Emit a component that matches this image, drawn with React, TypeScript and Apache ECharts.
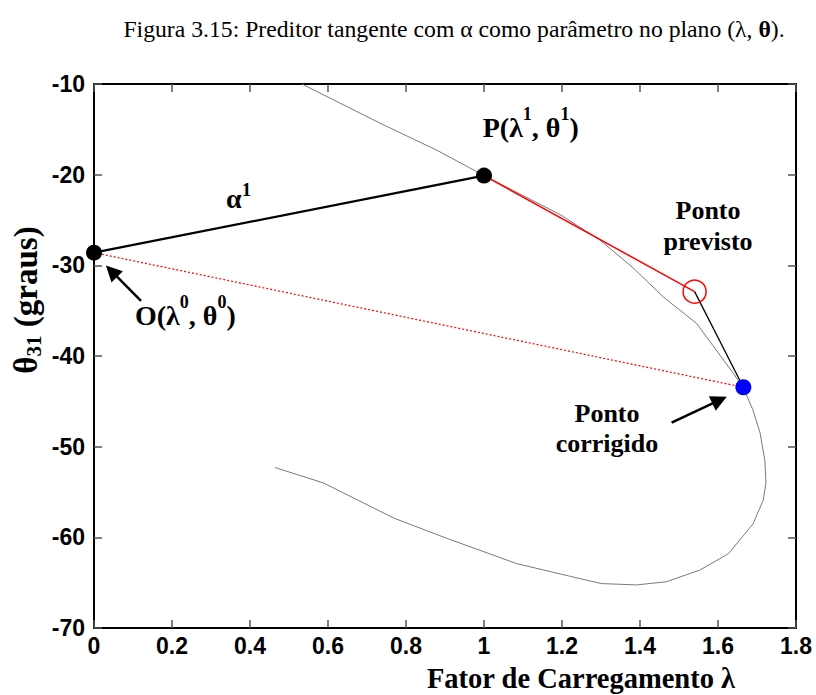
import React, { useEffect, useRef } from "react";
import * as echarts from "echarts";

// Load-flow curve (θ31 versus λ), traced from the upper branch down and back along the lower branch
const curveLambda = [
  0.533, 0.742, 0.879, 1.0, 1.195, 1.297, 1.383, 1.46, 1.545, 1.639, 1.665, 1.69, 1.708, 1.72,
  1.723, 1.716, 1.69, 1.627, 1.554, 1.468, 1.391, 1.301, 1.221, 1.084, 0.904, 0.77, 0.588, 0.464,
];
const curveTheta = [
  -10.0, -14.5, -17.3, -20.1, -24.4, -27.2, -30.3, -33.5, -36.4, -41.9, -43.5, -46.0, -48.5, -51.5,
  -54.0, -55.9, -58.5, -61.8, -63.6, -64.9, -65.25, -65.1, -64.3, -62.9, -60.1, -57.9, -54.0, -52.3,
];

// Continuation points (λ, θ)
const pointO = [0.0, -28.6];
const pointP = [1.0, -20.1];
const pointPredicted = [1.54, -32.9];
const pointCorrected = [1.665, -43.45];

// Annotation arrows: [tail, head centre] in data units
const arrowToO = [
  [0.1205, -33.93],
  [0.045, -30.64],
];
const arrowToCorrected = [
  [1.481, -47.35],
  [1.604, -44.86],
];

// Axes
const xMin = 0;
const xMax = 1.8;
const xStep = 0.2;
const yMin = -70;
const yMax = -10;
const yStep = 10;
const xTickLabels = ["0", "0.2", "0.4", "0.6", "0.8", "1", "1.2", "1.4", "1.6", "1.8"];
const yTickLabels = ["-70", "-60", "-50", "-40", "-30", "-20", "-10"];

const SERIF = "'Liberation Serif', 'Times New Roman', serif";
const SANS = "'Liberation Sans', Arial, sans-serif";

const frameLine = { show: true, onZero: false, lineStyle: { color: "#000", width: 2 } };
const innerTick = { show: true, inside: true, length: 8, lineStyle: { color: "#555", width: 1.5 } };
const tickFont = { color: "#000", fontFamily: SANS, fontWeight: "bold" as const, fontSize: 23 };

// Rich styles for labels with superscripts
const supRich = {
  m: { fontFamily: SERIF, fontWeight: "bold", fontSize: 28, lineHeight: 46, fill: "#000", color: "#000" },
  s: { fontFamily: SERIF, fontWeight: "bold", fontSize: 18, lineHeight: 18, verticalAlign: "top", fill: "#000", color: "#000" },
  sl: {
    fontFamily: SERIF,
    fontWeight: "bold",
    fontSize: 19,
    verticalAlign: "top",
    padding: [5, 0, 0, 0],
    fill: "#000",
    color: "#000",
  },
};

export default function App() {
  const ref = useRef<HTMLDivElement>(null);

  useEffect(() => {
    if (!ref.current) return;
    const chart = echarts.init(ref.current, null, { renderer: "svg" });

    const curveData = curveLambda.map((l, i) => [l, curveTheta[i]]);

    const option: any = {
      animation: false,
      backgroundColor: "#fff",
      grid: { left: 94, right: 20, top: 84, bottom: 67, containLabel: false },
      xAxis: [
        {
          type: "value",
          min: xMin,
          max: xMax,
          interval: xStep,
          position: "bottom",
          axisLine: frameLine,
          axisTick: innerTick,
          splitLine: { show: false },
          axisLabel: {
            ...tickFont,
            margin: 6,
            formatter: (v: number) => xTickLabels[Math.round((v - xMin) / xStep)] ?? "",
          },
        },
        {
          type: "value",
          min: xMin,
          max: xMax,
          interval: xStep,
          position: "top",
          axisLine: frameLine,
          axisTick: innerTick,
          splitLine: { show: false },
          axisLabel: { show: false },
        },
      ],
      yAxis: [
        {
          type: "value",
          min: yMin,
          max: yMax,
          interval: yStep,
          position: "left",
          axisLine: frameLine,
          axisTick: innerTick,
          splitLine: { show: false },
          axisLabel: {
            ...tickFont,
            margin: 9,
            formatter: (v: number) => yTickLabels[Math.round((v - yMin) / yStep)] ?? "",
          },
        },
        {
          type: "value",
          min: yMin,
          max: yMax,
          interval: yStep,
          position: "right",
          axisLine: frameLine,
          axisTick: innerTick,
          splitLine: { show: false },
          axisLabel: { show: false },
        },
      ],
      series: [
        {
          name: "curva",
          type: "line",
          data: curveData,
          showSymbol: false,
          symbol: "none",
          lineStyle: { color: "#7a7a7a", width: 1 },
          z: 2,
        },
        {
          name: "O-corrigido",
          type: "line",
          data: [pointO, pointCorrected],
          showSymbol: false,
          symbol: "none",
          lineStyle: { color: "#ff0000", width: 1.2, type: [2, 2] },
          z: 3,
          markLine: {
            silent: true,
            symbol: ["none", "triangle"],
            symbolSize: 16,
            label: { show: false },
            lineStyle: { color: "#000", width: 2.5, type: "solid" },
            itemStyle: { color: "#000" },
            data: [
              [{ coord: arrowToO[0] }, { coord: arrowToO[1] }],
              [{ coord: arrowToCorrected[0] }, { coord: arrowToCorrected[1] }],
            ],
          },
        },
        {
          name: "alfa",
          type: "line",
          data: [pointO, pointP],
          showSymbol: false,
          symbol: "none",
          lineStyle: { color: "#000", width: 2.2 },
          z: 3,
        },
        {
          name: "preditor",
          type: "line",
          data: [pointP, pointPredicted],
          showSymbol: false,
          symbol: "none",
          lineStyle: { color: "#ff0000", width: 1.5 },
          z: 3,
        },
        {
          name: "corretor",
          type: "line",
          data: [pointPredicted, pointCorrected],
          showSymbol: false,
          symbol: "none",
          lineStyle: { color: "#000", width: 1.3 },
          z: 3,
        },
        {
          name: "pontos",
          type: "scatter",
          data: [pointO, pointP],
          symbol: "circle",
          symbolSize: 16,
          itemStyle: { color: "#000", opacity: 1 },
          z: 4,
        },
        {
          name: "previsto",
          type: "scatter",
          data: [pointPredicted],
          symbol: "circle",
          symbolSize: 23,
          itemStyle: { color: "none", borderColor: "#ff0000", borderWidth: 1.5, opacity: 1 },
          z: 4,
        },
        {
          name: "corrigido",
          type: "scatter",
          data: [pointCorrected],
          symbol: "circle",
          symbolSize: 16,
          itemStyle: { color: "#0000ff", opacity: 1 },
          z: 4,
        },
      ],
      graphic: [
        {
          type: "text",
          x: 454,
          y: 28.5,
          style: {
            text: "{r|Figura 3.15: Preditor tangente com α como parâmetro no plano (λ, }{b|θ}{r|).}",
            align: "center",
            verticalAlign: "middle",
            rich: {
              r: { fontFamily: SERIF, fontSize: 23.7, fill: "#000", color: "#000" },
              b: { fontFamily: SERIF, fontSize: 23.7, fontWeight: "bold", fill: "#000", color: "#000" },
            },
          },
        },
        {
          type: "text",
          x: 581,
          y: 678.5,
          style: {
            text: "Fator de Carregamento λ",
            fontFamily: SERIF,
            fontWeight: "bold",
            fontSize: 28.5,
            fill: "#000",
            align: "center",
            verticalAlign: "middle",
          },
        },
        {
          type: "text",
          x: 26,
          y: 300,
          rotation: Math.PI / 2,
          style: {
            text: "{m|θ}{u|31}{m| (graus)}",
            align: "center",
            verticalAlign: "middle",
            rich: {
              m: { fontFamily: SERIF, fontWeight: "bold", fontSize: 33, lineHeight: 36, fill: "#000", color: "#000" },
              u: { fontFamily: SERIF, fontWeight: "bold", fontSize: 21, verticalAlign: "bottom", fill: "#000", color: "#000" },
            },
          },
        },
        {
          type: "text",
          x: 226,
          y: 175.3,
          style: {
            text: "{m|α}{sl|1}",
            align: "left",
            verticalAlign: "top",
            rich: supRich,
          },
        },
        {
          type: "text",
          x: 482.7,
          y: 104.9,
          style: {
            text: "{m|P(λ}{s|1}{m|, θ}{s|1}{m|)}",
            align: "left",
            verticalAlign: "top",
            rich: supRich,
          },
        },
        {
          type: "text",
          x: 135,
          y: 292.5,
          style: {
            text: "{m|O(λ}{s|0}{m|, θ}{s|0}{m|)}",
            align: "left",
            verticalAlign: "top",
            rich: supRich,
          },
        },
        {
          type: "text",
          x: 708,
          y: 195.2,
          style: {
            text: "Ponto\nprevisto",
            fontFamily: SERIF,
            fontWeight: "bold",
            fontSize: 26,
            lineHeight: 30.7,
            fill: "#000",
            align: "center",
            verticalAlign: "top",
          },
        },
        {
          type: "text",
          x: 607,
          y: 398.9,
          style: {
            text: "Ponto\ncorrigido",
            fontFamily: SERIF,
            fontWeight: "bold",
            fontSize: 26,
            lineHeight: 30,
            fill: "#000",
            align: "center",
            verticalAlign: "top",
          },
        },
      ],
    };

    chart.setOption(option);
    return () => chart.dispose();
  }, []);

  return <div ref={ref} style={{ width: 816, height: 695, position: "absolute", left: 0, top: 0 }} />;
}
